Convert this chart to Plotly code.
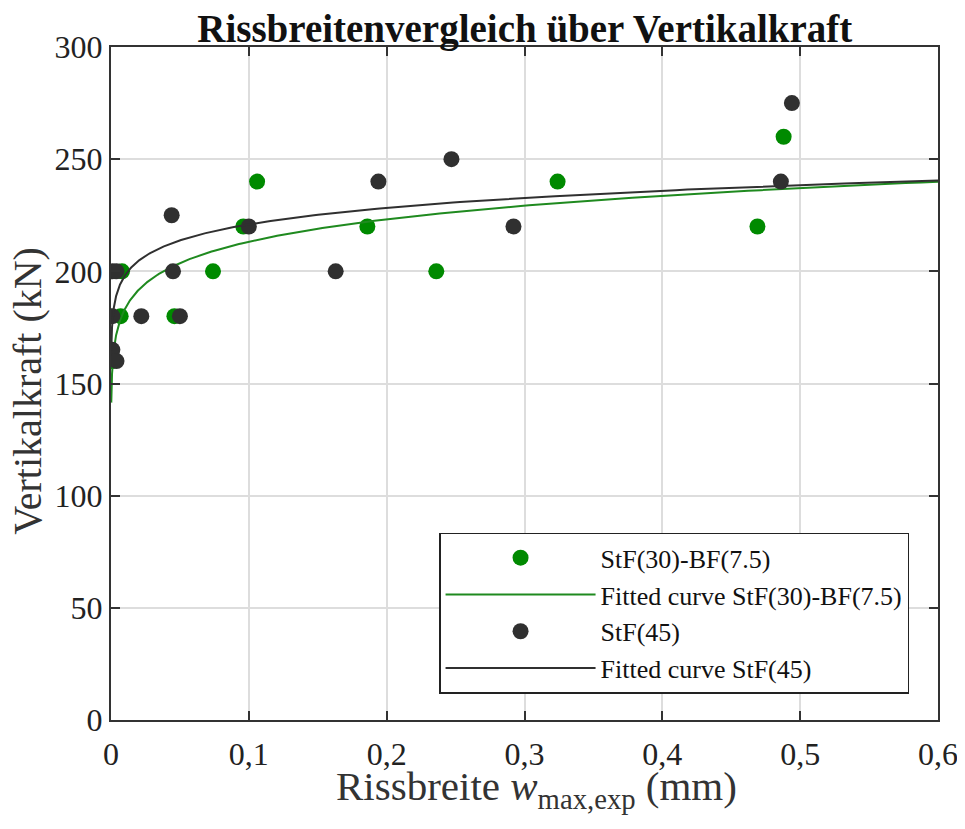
import numpy as np
import plotly.graph_objects as go

# ---- data ----
green_x = [0.001, 0.007, 0.008, 0.046, 0.074, 0.096, 0.106, 0.186, 0.236, 0.324, 0.469, 0.488]
green_y = [160, 180, 200, 180, 200, 220, 240, 220, 200, 240, 220, 260]

dark_x = [0.001, 0.004, 0.001, 0.022, 0.050, 0.001, 0.004, 0.045, 0.044, 0.100,
          0.163, 0.194, 0.247, 0.292, 0.486, 0.494]
dark_y = [165, 160, 180, 180, 180, 200, 200, 200, 225, 220,
          200, 240, 250, 220, 240, 275]

# fitted power-law curves y = a * x^b (coefficients)
fit_green = (248.2, 0.066)
fit_dark = (246.4, 0.0474)
fit_x = np.geomspace(2e-4, 0.6, 400)

x_ticks = [0, 0.1, 0.2, 0.3, 0.4, 0.5, 0.6]
y_ticks = [0, 50, 100, 150, 200, 250, 300]

GREEN = "#008a00"
GREEN_LINE = "#1f8a1f"
DARK = "#303030"
FONT = "Liberation Serif, Times New Roman, serif"

fig = go.Figure()
fig.add_trace(go.Scatter(
    x=green_x, y=green_y, mode="markers", name="StF(30)-BF(7.5)",
    marker=dict(color=GREEN, size=16), legendgroup="a"))
fig.add_trace(go.Scatter(
    x=fit_x, y=fit_green[0] * fit_x ** fit_green[1], mode="lines",
    name="Fitted curve StF(30)-BF(7.5)", line=dict(color=GREEN_LINE, width=2),
    legendgroup="b"))
fig.add_trace(go.Scatter(
    x=dark_x, y=dark_y, mode="markers", name="StF(45)",
    marker=dict(color=DARK, size=16), legendgroup="c"))
fig.add_trace(go.Scatter(
    x=fit_x, y=fit_dark[0] * fit_x ** fit_dark[1], mode="lines",
    name="Fitted curve StF(45)", line=dict(color=DARK, width=2),
    legendgroup="d"))

axis_common = dict(
    showline=True, linecolor="#333333", linewidth=2, mirror="ticks",
    ticks="inside", ticklen=9, tickwidth=1.5, tickcolor="#333333",
    showgrid=True, gridcolor="#dddddd", gridwidth=1.5, zeroline=False,
    automargin=False,
    tickfont=dict(family=FONT, size=32, color="#222222"),
)

fig.update_layout(
    width=957, height=821,
    margin=dict(l=103, r=27, t=39, b=109, autoexpand=False),
    paper_bgcolor="white", plot_bgcolor="white",
    separators=",.",
    font=dict(family=FONT, color="#111111"),
    title=dict(text="<b>Rissbreitenvergleich über Vertikalkraft</b>",
               x=0.540, xanchor="center", y=0.959, yanchor="bottom",
               font=dict(family=FONT, size=39, color="#111111")),
    xaxis=dict(range=[0, 0.6], tickvals=x_ticks, ticklabelstandoff=5,
               **axis_common),
    yaxis=dict(range=[0, 300], tickvals=y_ticks, ticklabelstandoff=0,
               **axis_common),
    legend=dict(x=0.965, xanchor="right", y=0.039, yanchor="bottom",
                bgcolor="white", bordercolor="#222222", borderwidth=1.5,
                font=dict(family=FONT, size=26, color="#111111"),
                itemwidth=150, tracegroupgap=0, traceorder="grouped"),
    showlegend=True,
    annotations=[
        dict(text="Rissbreite <i>w</i><sub>max,exp</sub> (mm)",
             xref="paper", yref="paper", x=0.270, xanchor="left",
             y=-0.061, yanchor="top", showarrow=False,
             font=dict(family=FONT, size=41, color="#333333")),
        dict(text="Vertikalkraft (kN)", textangle=-90,
             xref="paper", yref="paper", x=-0.1306, xanchor="left",
             y=0.49, yanchor="middle", showarrow=False,
             font=dict(family=FONT, size=40, color="#333333")),
    ],
)

fig.write_html("out.html")
